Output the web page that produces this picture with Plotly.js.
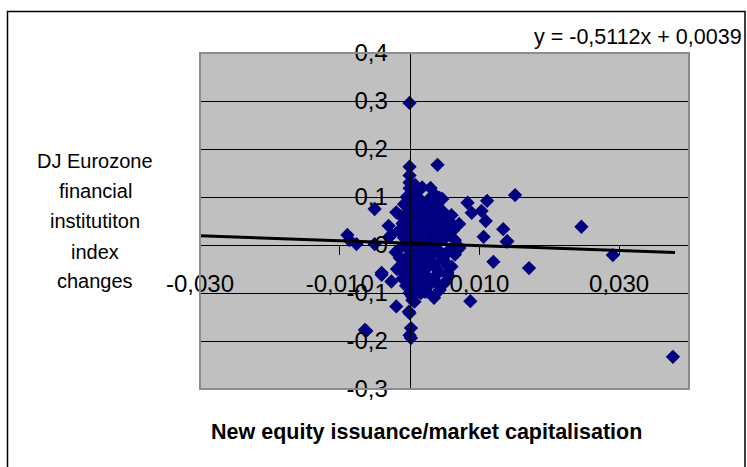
<!DOCTYPE html>
<html>
<head>
<meta charset="utf-8">
<script src="https://cdn.plot.ly/plotly-3.0.1.min.js"></script>
<style>html,body{margin:0;padding:0;background:#fff;}</style>
</head>
<body>
<div id="chart" style="width:747px;height:467px;"></div>
<script>
// Observations: new equity issuance / market capitalisation (x) vs DJ Eurozone index change (y)
const issuanceX = [
  0.0000, 0.0000, 0.0040, -0.0050, 0.0151, 0.0111, 0.0083, 0.0246, 0.0291, 0.0377,
  0.0171, 0.0120, 0.0087, 0.0134, 0.0140, 0.0106, 0.0071, 0.0071, 0.0047, 0.0047,
  0.0103, 0.0089, 0.0109, 0.0053, 0.0046, -0.0089, -0.0076, -0.0040, -0.0050, -0.0026,
  -0.0062, -0.0019, 0.0000, 0.0002, 0.0000, 0.0021, 0.0054, 0.0026, 0.0045, -0.0019,
  -0.0026, 0.0004, -0.0040, -0.0001, 0.0002, -0.0064, 0.0024, 0.0014, 0.0047, 0.0054,
  0.0004, 0.0007, -0.0014, 0.0060, 0.0050, 0.0071, 0.0139, -0.0086, -0.0029, 0.0030,
  0.0043, 0.0024,
  0.0000, 0.0000, 0.0000, 0.0000, 0.0000, 0.0000, 0.0000, 0.0000, 0.0000, 0.0000,
  0.0000, 0.0000, 0.0000, 0.0000, 0.0000, 0.0000, 0.0000, 0.0000, 0.0000, 0.0000,
  0.0000, 0.0000, 0.0000,
  0.0010, 0.0015, 0.0020, 0.0012, 0.0025, 0.0030, 0.0018, 0.0035, 0.0022, 0.0040,
  0.0028, 0.0012, 0.0033, 0.0045, 0.0020, 0.0038, 0.0015, 0.0027, 0.0042, 0.0010,
  0.0032, 0.0020, 0.0048, 0.0015, 0.0035, 0.0025, 0.0008, 0.0040, 0.0018, 0.0030,
  0.0012, 0.0022, 0.0006, 0.0016,
  -0.0008, -0.0012, -0.0010, -0.0015, -0.0008, -0.0012, -0.0020, -0.0008, -0.0018, -0.0010,
  -0.0030, -0.0005,
  0.0036, 0.0050, 0.0060, 0.0055, 0.0065, 0.0060, 0.0043, 0.0065, 0.0035, 0.0028,
  0.0056, 0.0033, 0.0008, 0.0012,
  0.0006, 0.0014, 0.0024, 0.0032, 0.0040, 0.0009, 0.0019, 0.0029, 0.0037, 0.0005,
  0.0013, 0.0023, 0.0031, 0.0041, 0.0007, 0.0017, 0.0026, 0.0034, 0.0044, 0.0011,
  0.0021, 0.0029, 0.0039, 0.0051, 0.0057, 0.0049, 0.0004, 0.0016, 0.0027, 0.0036,
  -0.0004, -0.0006, -0.0003, -0.0007, 0.0062, 0.0052, 0.0058, 0.0018, 0.0031, 0.0009
];
const indexChangeY = [
  0.296, 0.163, 0.167, 0.075, 0.104, 0.092, 0.088, 0.038, -0.021, -0.233,
  -0.048, -0.035, -0.117, 0.033, 0.008, 0.017, -0.007, 0.044, 0.096, 0.071,
  0.071, 0.067, 0.050, 0.021, 0.031, 0.021, 0.002, -0.062, 0.002, -0.076,
  -0.179, -0.128, -0.142, -0.173, -0.188, -0.097, -0.042, 0.083, 0.069, 0.068,
  0.021, -0.115, -0.058, -0.139, -0.194, -0.177, -0.097, -0.062, -0.083, -0.058,
  -0.108, -0.118, -0.027, -0.045, -0.079, -0.004, 0.007, 0.010, 0.017, 0.119,
  0.098, 0.088,
  0.145, 0.130, 0.118, 0.105, 0.095, 0.085, 0.070, 0.060, 0.050, 0.040,
  0.030, 0.020, 0.010, 0.000, -0.010, -0.020, -0.030, -0.040, -0.050, -0.070,
  -0.080, -0.090, -0.100,
  0.110, 0.095, 0.080, 0.072, 0.065, 0.058, 0.052, 0.048, 0.040, 0.035,
  0.030, 0.025, 0.022, 0.015, 0.012, 0.005, 0.000, -0.005, -0.012, -0.015,
  -0.020, -0.028, -0.030, -0.035, -0.040, -0.048, -0.055, -0.060, -0.065, -0.072,
  -0.080, -0.088, -0.095, -0.100,
  0.085, 0.060, 0.045, 0.030, 0.015, -0.005, -0.015, -0.040, -0.050, -0.070,
  0.040, -0.085,
  0.105, 0.055, 0.040, 0.025, 0.010, 0.062, -0.094, -0.020, -0.110, 0.000,
  -0.065, 0.078, 0.125, -0.045,
  0.088, 0.076, 0.070, 0.088, 0.080, 0.042, 0.045, 0.040, 0.060, 0.018,
  0.005, 0.002, 0.010, 0.022, -0.025, -0.012, -0.018, -0.008, -0.022, -0.045,
  -0.060, -0.040, -0.050, 0.015, -0.010, 0.042, -0.062, -0.078, -0.085, -0.075,
  0.100, 0.025, -0.030, -0.060, 0.030, -0.020, 0.048, 0.120, 0.100, 0.062
];
// Linear trend line end points as drawn
const trendX = [-0.030, 0.038];
const trendY = [0.0192, -0.0155];
const equationText = "y = -0,5112x + 0,0039";
const yTitleLines = ["DJ Eurozone", "financial", "institutiton", "index", "changes"];
const xTitle = "New equity issuance/market capitalisation";
const xTickVals = [-0.03, -0.01, 0.01, 0.03];
const xTickText = ["-0,030", "-0,010", "0,010", "0,030"];
const yTickVals = [0.4, 0.3, 0.2, 0.1, 0, -0.1, -0.2, -0.3];
const yTickText = ["0,4", "0,3", "0,2", "0,1", "0", "-0,1", "-0,2", "-0,3"];

const FONT = "Liberation Sans, Arial, sans-serif";

const traces = [
  {
    x: issuanceX, y: indexChangeY, type: "scatter", mode: "markers",
    marker: {symbol: "diamond", size: 11, color: "#000080", line: {width: 0}},
    hoverinfo: "x+y", showlegend: false
  },
  {
    x: trendX, y: trendY, type: "scatter", mode: "lines",
    line: {color: "#000000", width: 3}, showlegend: false, hoverinfo: "skip"
  }
];

const lineYs = [161, 191, 221, 252, 281];
const annotations = yTitleLines.map((t, i) => ({
  text: t, xref: "paper", yref: "paper",
  x: (95 - 200) / 489, y: (389 - lineYs[i]) / 336,
  xanchor: "center", yanchor: "middle", showarrow: false,
  font: {family: FONT, size: 20, color: "#000"}
}));
annotations.push({
  text: "<b>" + xTitle + "</b>", xref: "paper", yref: "paper",
  x: (426 - 200) / 489, y: (389 - 432) / 336,
  xanchor: "center", yanchor: "middle", showarrow: false,
  font: {family: FONT, size: 21.5, color: "#000"}
});
annotations.push({
  text: equationText, xref: "paper", yref: "paper",
  x: (744 - 200) / 489, y: (389 - 37) / 336,
  xanchor: "right", yanchor: "middle", showarrow: false,
  font: {family: FONT, size: 21.5, color: "#000"}
});

const layout = {
  width: 747, height: 467,
  margin: {l: 200, r: 58, t: 53, b: 78, pad: 0},
  paper_bgcolor: "#ffffff",
  plot_bgcolor: "#c0c0c0",
  font: {family: FONT, color: "#000"},
  showlegend: false,
  xaxis: {
    range: [-0.03, 0.04], tickmode: "array", tickvals: xTickVals, ticktext: xTickText,
    anchor: "free", position: 0.3 / 0.7,
    showline: true, linecolor: "#000", linewidth: 1,
    ticks: "outside", ticklen: 9, tickcolor: "#000", tickwidth: 1,
    ticklabelstandoff: 8,
    showgrid: false, zeroline: false,
    tickfont: {family: FONT, size: 24, color: "#000"}
  },
  yaxis: {
    range: [-0.3, 0.4], tickmode: "array", tickvals: yTickVals, ticktext: yTickText,
    anchor: "free", position: 0.03 / 0.07,
    showline: true, linecolor: "#000", linewidth: 1,
    ticks: "outside", ticklen: 9, tickcolor: "#000", tickwidth: 1,
    ticklabelstandoff: 8,
    showgrid: true, gridcolor: "#000", gridwidth: 1,
    zeroline: false,
    tickfont: {family: FONT, size: 24, color: "#000"}
  },
  shapes: [
    {type: "rect", xref: "paper", yref: "paper", x0: 0, x1: 1, y0: 0, y1: 1,
     line: {color: "#8c8c8c", width: 2}, layer: "above"},
    {type: "rect", xref: "paper", yref: "paper",
     x0: (7.5 - 200) / 489, x1: (745 - 200) / 489,
     y0: (389 - 475) / 336, y1: (389 - 11.5) / 336,
     line: {color: "#000", width: 1.5}, fillcolor: "rgba(0,0,0,0)"}
  ],
  annotations: annotations
};

Plotly.newPlot("chart", traces, layout, {displayModeBar: false, staticPlot: true});
</script>
</body>
</html>
